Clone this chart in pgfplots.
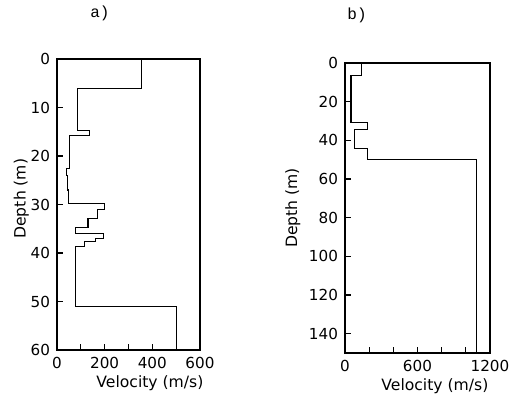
\documentclass[border=0pt]{standalone}
\usepackage{fontspec}
\setmainfont{DejaVu Sans}
\newfontfamily\monofont{Liberation Mono}
\usepackage{pgfplots}
\pgfplotsset{compat=1.18}
\begin{document}
\begin{tikzpicture}
\path[use as bounding box] (0,0) rectangle (257.5pt,201.5pt);
\pgfplotsset{
  every axis/.append style={
    scale only axis,
    y dir=reverse,
    axis line style={line width=0.7pt},
    tick style={line width=0.6pt, black},
    tick align=inside,
    major tick length=3pt,
    font=\fontsize{7.8}{9}\selectfont,
    /pgf/number format/assume math mode=true,
    /pgf/number format/1000 sep={},
    ticklabel style={font=\fontsize{7.6}{9}\selectfont},
    xtick pos=bottom, ytick pos=left,
  }
}
\begin{axis}[
  at={(28.5pt,26.5pt)}, anchor=south west,
  width=71.5pt, height=145.5pt,
  xmin=0, xmax=600, ymin=0, ymax=60,
  xtick={0,100,...,600},
  xticklabels={0,,200,,400,,600},
  ytick={0,10,...,60},
  xlabel={Velocity (m/s)},
  ylabel={Depth (m)},
  xlabel style={at={(axis description cs:0.65,-0.113)}, anchor=center},
  ylabel style={at={(axis description cs:-0.25,0.52)}, anchor=center},
]
\addplot[black, line width=0.55pt] coordinates {
(355,0)(355,6)(85,6)(85,14.7)(138,14.7)(138,15.8)(52,15.8)(52,22.6)(38,22.6)(38,24)(44,24)(44,27)(50,27)(50,29.8)(200,29.8)(200,31)(170,31)(170,32.8)(130,32.8)(130,34.8)(78,34.8)(78,36)(195,36)(195,37)(160,37)(160,37.7)(115,37.7)(115,38.7)(78,38.7)(78,51)(500,51)(500,60)
};
\end{axis}
\begin{axis}[
  at={(172.5pt,25pt)}, anchor=south west,
  width=72.5pt, height=145pt,
  xmin=0, xmax=1200, ymin=0, ymax=150,
  xtick={0,200,...,1200},
  xticklabels={0,,,600,,,1200},
  ytick={0,20,...,140},
  xlabel={Velocity (m/s)},
  ylabel={Depth (m)},
  xlabel style={at={(axis description cs:0.62,-0.113)}, anchor=center},
  ylabel style={at={(axis description cs:-0.36,0.5)}, anchor=center},
]
\addplot[black, line width=0.55pt] coordinates {
(140,0)(140,6.5)(50,6.5)(50,30.7)(185,30.7)(185,34.5)(75,34.5)(75,44)(188,44)(188,49.8)(1090,49.8)(1090,150)
};
\end{axis}
\node[font=\monofont\fontsize{8}{9}\selectfont] at (50pt,195pt) {a)};
\node[font=\monofont\fontsize{8}{9}\selectfont] at (178.5pt,194pt) {b)};
\end{tikzpicture}
\end{document}
